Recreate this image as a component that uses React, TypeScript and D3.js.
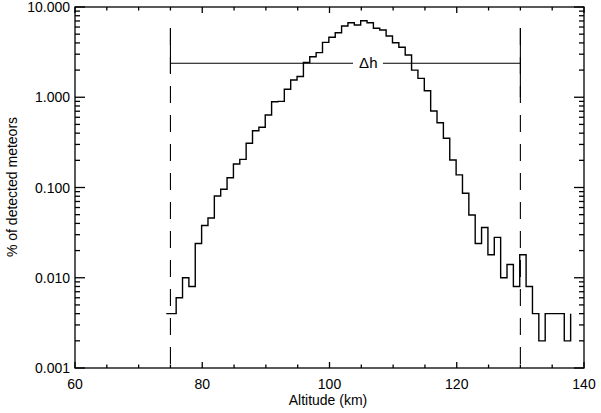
import React from "react";
import * as d3 from "d3";

// Histogram: first bin left edge, then regular 1-km bins
const firstBinLeft = 74.35;
const regularEdgeStart = 75.9;
const binWidth = 1;
const percentValues = [
  0.004, 0.006, 0.010, 0.008, 0.024, 0.038, 0.046, 0.0805, 0.0955, 0.128,
  0.182, 0.205, 0.309, 0.426, 0.465, 0.636, 0.89, 0.90, 1.226, 1.55,
  1.70, 2.43, 2.81, 3.12, 4.06, 4.62, 5.19, 6.16, 6.70, 6.32,
  7.05, 6.70, 5.81, 5.56, 4.77, 4.02, 3.58, 2.94, 2.00, 1.62,
  1.18, 0.704, 0.522, 0.351, 0.202, 0.138, 0.0863, 0.0496, 0.024, 0.036,
  0.018, 0.028, 0.010, 0.014, 0.008, 0.018, 0.008, 0.004, 0.002, 0.004,
  0.004, 0.004, 0.002,
];
const tailValue = 0.004;

const xTickLabels = [60, 80, 100, 120, 140];
const xMinorTicks = [65, 70, 75, 85, 90, 95, 105, 110, 115, 125, 130, 135];
const yTickValues = [0.001, 0.01, 0.1, 1, 10];
const yTickLabels = ["0.001", "0.010", "0.100", "1.000", "10.000"];

const limitLow = 75;
const limitHigh = 130;
const limitTop = 5.85;
const leftCapBottom = 1.86;
const rightCapBottom = 1.0;
const deltaHValue = 2.38;
const deltaHGap = [103.7, 108.4];
const deltaHLabelX = 106.1;

const W = 601;
const H = 413;
const m = { left: 75, right: 584, top: 7, bottom: 368 };

export default function App() {
  const x = d3.scaleLinear().domain([60, 140]).range([m.left, m.right]);
  const y = d3.scaleLog().domain([0.001, 10]).range([m.bottom, m.top]);

  // build step path
  const edges: number[] = [firstBinLeft];
  for (let i = 0; i < percentValues.length; i++) edges.push(regularEdgeStart + i * binWidth);
  const pts: [number, number][] = [];
  percentValues.forEach((v, i) => {
    pts.push([edges[i], v]);
    pts.push([edges[i + 1], v]);
  });
  pts.push([edges[edges.length - 1], tailValue]);
  const line = d3
    .line<[number, number]>()
    .x((d) => x(d[0]))
    .y((d) => y(d[1]));

  const yMinor: number[] = [];
  for (let e = -3; e < 1; e++) {
    for (let k = 2; k <= 9; k++) yMinor.push(k * Math.pow(10, e));
  }

  const font = "'Liberation Sans', Arial, Helvetica, sans-serif";
  const sw = 1.3;

  return (
    <svg width={W} height={H} style={{ position: "absolute", left: 0, top: 0 }}>
      <rect x={0} y={0} width={W} height={H} fill="#fff" />
      {/* frame */}
      <rect
        x={m.left}
        y={m.top}
        width={m.right - m.left}
        height={m.bottom - m.top}
        fill="none"
        stroke="#000"
        strokeWidth={sw}
      />
      {/* x ticks */}
      {xTickLabels.map((t) => (
        <g key={"xt" + t}>
          <line x1={x(t)} x2={x(t)} y1={m.bottom} y2={m.bottom - 6} stroke="#000" strokeWidth={sw} />
          <line x1={x(t)} x2={x(t)} y1={m.top} y2={m.top + 6} stroke="#000" strokeWidth={sw} />
          <text x={x(t)} y={389} textAnchor="middle" fontFamily={font} fontSize={14} fill="#000">
            {t}
          </text>
        </g>
      ))}
      {xMinorTicks.map((t) => (
        <g key={"xm" + t}>
          <line x1={x(t)} x2={x(t)} y1={m.bottom} y2={m.bottom - 3.5} stroke="#000" strokeWidth={sw} />
          <line x1={x(t)} x2={x(t)} y1={m.top} y2={m.top + 3.5} stroke="#000" strokeWidth={sw} />
        </g>
      ))}
      {/* y ticks */}
      {yTickValues.map((t, i) => (
        <g key={"yt" + t}>
          <line x1={m.left} x2={m.left + 10} y1={y(t)} y2={y(t)} stroke="#000" strokeWidth={sw} />
          <line x1={m.right} x2={m.right - 10} y1={y(t)} y2={y(t)} stroke="#000" strokeWidth={sw} />
          <text x={70} y={y(t) + 5} textAnchor="end" fontFamily={font} fontSize={14} fill="#000">
            {yTickLabels[i]}
          </text>
        </g>
      ))}
      {yMinor.map((t) => (
        <g key={"ym" + t}>
          <line x1={m.left} x2={m.left + 5} y1={y(t)} y2={y(t)} stroke="#000" strokeWidth={sw} />
          <line x1={m.right} x2={m.right - 5} y1={y(t)} y2={y(t)} stroke="#000" strokeWidth={sw} />
        </g>
      ))}
      {/* axis titles */}
      <text x={328} y={405} textAnchor="middle" fontFamily={font} fontSize={14} fill="#000">
        Altitude (km)
      </text>
      <text
        transform={`translate(17,187) rotate(-90)`}
        textAnchor="middle"
        fontFamily={font}
        fontSize={14}
        fill="#000"
      >
        % of detected meteors
      </text>
      {/* limit dashed lines */}
      {[limitLow, limitHigh].map((v) => (
        <line
          key={"lim" + v}
          x1={x(v)}
          x2={x(v)}
          y1={y(limitTop)}
          y2={y(0.001)}
          stroke="#000"
          strokeWidth={1.1}
          strokeDasharray="17 12"
        />
      ))}
      <line x1={x(limitLow)} x2={x(limitLow)} y1={y(limitTop)} y2={y(leftCapBottom)} stroke="#000" strokeWidth={1.1} />
      <line x1={x(limitHigh)} x2={x(limitHigh)} y1={y(limitTop)} y2={y(rightCapBottom)} stroke="#000" strokeWidth={1.1} />
      {/* delta h bar */}
      <line x1={x(limitLow)} x2={x(deltaHGap[0])} y1={y(deltaHValue)} y2={y(deltaHValue)} stroke="#000" strokeWidth={1.1} />
      <line x1={x(deltaHGap[1])} x2={x(limitHigh)} y1={y(deltaHValue)} y2={y(deltaHValue)} stroke="#000" strokeWidth={1.1} />
      <text x={x(deltaHLabelX)} y={y(deltaHValue) + 5} textAnchor="middle" fontFamily={font} fontSize={15} fill="#000">
        Δh
      </text>
      {/* histogram */}
      <path d={line(pts) || ""} fill="none" stroke="#000" strokeWidth={1.4} />
    </svg>
  );
}
